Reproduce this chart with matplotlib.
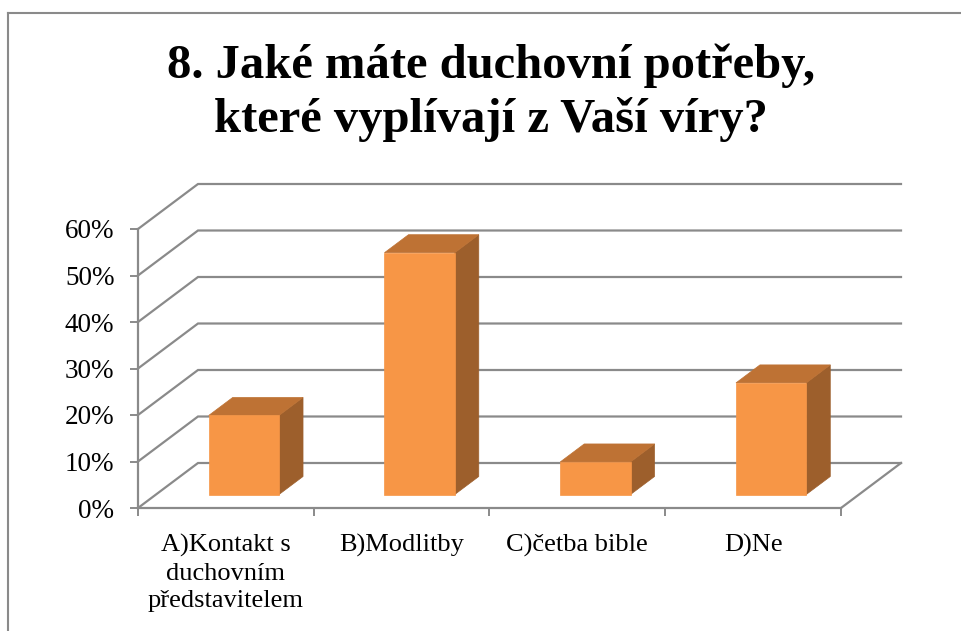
import matplotlib
matplotlib.use("Agg")
import matplotlib.pyplot as plt
from matplotlib.patches import Polygon
from matplotlib.lines import Line2D

# ---- data ----
categories = ["A)Kontakt s\nduchovním\npředstavitelem", "B)Modlitby", "C)četba bible", "D)Ne"]
values = [17, 52, 7, 24]
yticks = [0, 10, 20, 30, 40, 50, 60]
ytick_labels = [f"{v}%" for v in yticks]
title_lines = ["8. Jaké máte duchovní potřeby,", "které vyplívají z Vaší víry?"]

# ---- style ----
W, H = 962, 631
FRONT = "#F79646"
TOP = "#BE7234"
SIDE = "#9D5F2C"
GRID = "#8A8A8A"
SERIF = ["Liberation Serif", "DejaVu Serif"]
plt.rcParams["font.family"] = SERIF

fig = plt.figure(figsize=(W / 100, H / 100), dpi=100)
fig.patch.set_facecolor("white")

# outer chart border (top and left visible, cropped elsewhere)
fig.add_artist(Line2D([8 / W, 1.0], [1 - 13 / H, 1 - 13 / H], transform=fig.transFigure, color=GRID, lw=1.5))
fig.add_artist(Line2D([8 / W, 8 / W], [1 - 13 / H, 0.0], transform=fig.transFigure, color=GRID, lw=1.5))

ax = fig.add_axes([138 / W, (H - 508) / H, (841 - 138) / W, (508 - 229) / H])
ax.set_facecolor("none")
n = len(categories)
ax.set_xlim(-0.5, n - 0.5)
ax.set_ylim(yticks[0], yticks[-1])

# oblique depth projection (depth 0 = front, 1 = back wall)
DX = 60 / ((841 - 138) / n)
DY = 45 / ((508 - 229) / (yticks[-1] - yticks[0]))


def P(x, y, d):
    return (x + DX * d, y + DY * d)


# walls: side wall lines + back wall gridlines
x0, x1 = -0.5, n - 0.5
for y in yticks:
    pts = [P(x0, y, 0), P(x0, y, 1), P(x1, y, 1)]
    ax.plot([p[0] for p in pts], [p[1] for p in pts], color=GRID, lw=1.6, clip_on=False, zorder=1,
            solid_joinstyle="miter")
# right floor edge
pts = [P(x1, 0, 0), P(x1, 0, 1)]
ax.plot([p[0] for p in pts], [p[1] for p in pts], color=GRID, lw=1.6, clip_on=False, zorder=1)

# bars
bw = 0.4
d0, d1 = 0.3, 0.7
for i, v in enumerate(values):
    l, r = i - bw / 2, i + bw / 2
    front = [P(l, 0, d0), P(r, 0, d0), P(r, v, d0), P(l, v, d0)]
    top = [P(l, v, d0), P(r, v, d0), P(r, v, d1), P(l, v, d1)]
    side = [P(r, 0, d0), P(r, v, d0), P(r, v, d1), P(r, 0, d1)]
    for poly, c in ((side, SIDE), (top, TOP), (front, FRONT)):
        ax.add_patch(Polygon(poly, closed=True, facecolor=c, edgecolor=c, lw=0.5,
                             clip_on=False, zorder=3))

# axes spines
for s in ("top", "right"):
    ax.spines[s].set_visible(False)
for s in ("left", "bottom"):
    ax.spines[s].set_color(GRID)
    ax.spines[s].set_linewidth(1.6)
    ax.spines[s].set_zorder(2)

ax.set_yticks(yticks, labels=ytick_labels)
ax.tick_params(axis="y", length=6, width=1.4, color=GRID, pad=11, labelsize=19.5)

ax.set_xticks([x0 + k for k in range(n + 1)], labels=[""] * (n + 1))
ax.tick_params(axis="x", which="major", length=6, width=1.4, color=GRID, direction="out")
ax.set_xticks(list(range(n)), labels=categories, minor=True)
ax.tick_params(axis="x", which="minor", length=0, pad=19, labelsize=19)
for lab in ax.get_xticklabels(minor=True):
    lab.set_linespacing(1.3)
    lab.set_verticalalignment("top")

for line, base in zip(title_lines, (78, 132)):
    fig.text(491 / W, 1 - base / H, line, ha="center", va="baseline", fontsize=35, fontweight="bold")

fig.savefig("out.png", dpi=100, facecolor="white")
